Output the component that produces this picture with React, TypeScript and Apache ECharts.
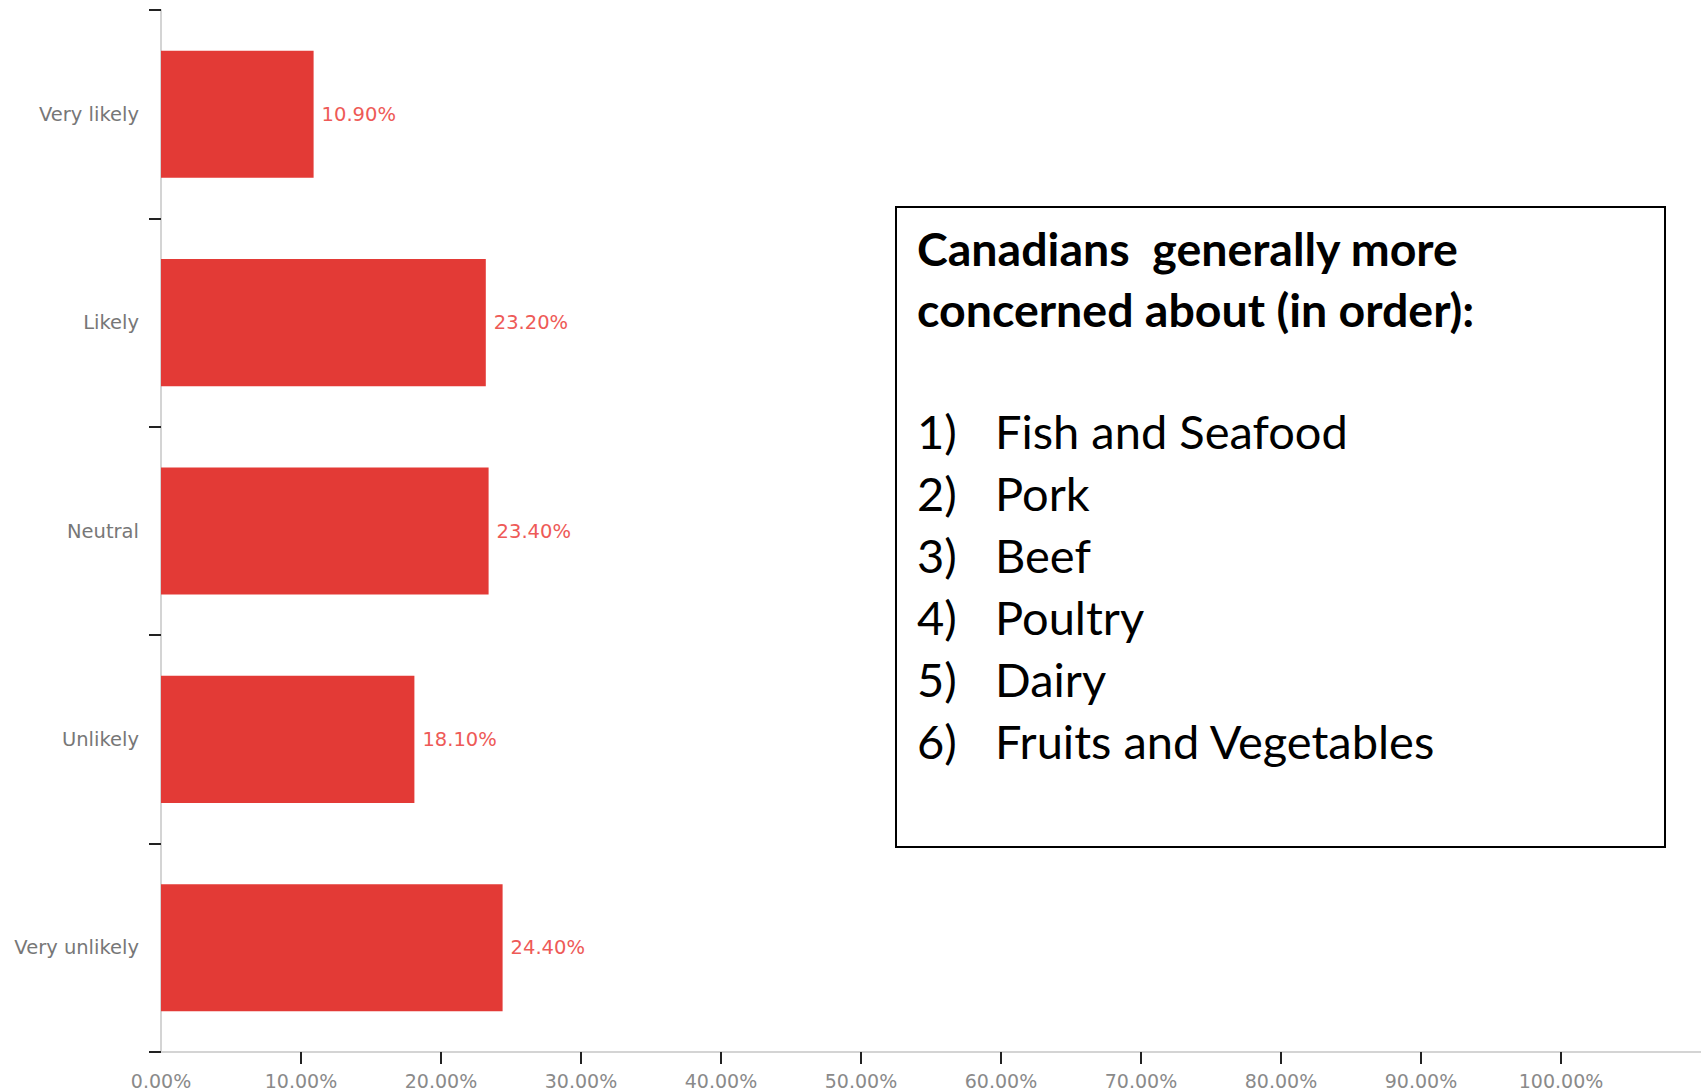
import React, { useEffect, useRef } from "react";
import * as echarts from "echarts";

const categories = ["Very likely", "Likely", "Neutral", "Unlikely", "Very unlikely"];
const values = [10.9, 23.2, 23.4, 18.1, 24.4];
const tickValues = [0, 10, 20, 30, 40, 50, 60, 70, 80, 90, 100];
const tickMarks = [10, 20, 30, 40, 50, 60, 70, 80, 90, 100];
const boxTitle = ["Canadians  generally more", "concerned about (in order):"];
const boxItems = ["Fish and Seafood", "Pork", "Beef", "Poultry", "Dairy", "Fruits and Vegetables"];

export default function App() {
  const ref = useRef<HTMLDivElement>(null);
  useEffect(() => {
    document.body.style.margin = "0";
    const chart = echarts.init(ref.current!, undefined, { renderer: "svg" });
    const axisFont = "'DejaVu Sans', 'Liberation Sans', sans-serif";
    const boxFont = "Lato, 'Open Sans', sans-serif";
    const graphics: any[] = [
      {
        type: "rect",
        shape: { x: 896, y: 207, width: 769, height: 640 },
        style: { fill: "#fff", stroke: "#000", lineWidth: 2 },
        z: 10,
      },
    ];
    boxTitle.forEach((t, i) => {
      graphics.push({
        type: "text",
        x: 917,
        y: 248 + i * 61,
        z: 11,
        style: {
          text: t,
          font: `bold 46.5px ${boxFont}`,
          fill: "#000",
          textVerticalAlign: "middle",
        },
      });
    });
    boxItems.forEach((t, i) => {
      const y = 431 + i * 62;
      graphics.push({
        type: "text",
        x: 917,
        y,
        z: 11,
        style: { text: `${i + 1})`, font: `47px ${boxFont}`, fill: "#000", textVerticalAlign: "middle" },
      });
      graphics.push({
        type: "text",
        x: 995,
        y,
        z: 11,
        style: { text: t, font: `47px ${boxFont}`, fill: "#000", textVerticalAlign: "middle" },
      });
    });

    chart.setOption({
      animation: false,
      backgroundColor: "#fff",
      grid: { left: 161, right: -4, top: 10, bottom: 39, containLabel: false },
      xAxis: {
        type: "value",
        min: 0,
        max: 110,
        interval: 10,
        splitLine: { show: false },
        axisLine: { show: true, lineStyle: { color: "#d4d4d4", width: 2 } },
        axisTick: {
          show: true,
          length: 12,
          lineStyle: { color: "#222", width: 2 },
          customValues: tickMarks,
        },
        axisLabel: {
          customValues: tickValues,
          formatter: (v: number) => `${v.toFixed(2)}%`,
          color: "#8a8a8a",
          fontFamily: axisFont,
          fontSize: 19,
          margin: 19,
        },
      },
      yAxis: {
        type: "category",
        data: categories,
        inverse: true,
        axisLine: { show: true, lineStyle: { color: "#d4d4d4", width: 2 } },
        axisTick: { show: true, length: 12, lineStyle: { color: "#222", width: 2 } },
        axisLabel: {
          color: "#777",
          fontFamily: axisFont,
          fontSize: 19.5,
          margin: 22,
        },
      },
      series: [
        {
          type: "bar",
          data: values,
          barCategoryGap: "39%",
          itemStyle: { color: "#e33a36" },
          label: {
            show: true,
            position: "right",
            distance: 8,
            color: "#ee5a57",
            fontFamily: axisFont,
            fontSize: 19.5,
            formatter: (p: any) => `${Number(p.value).toFixed(2)}%`,
          },
        },
      ],
      graphic: graphics,
    });
    return () => chart.dispose();
  }, []);
  return <div ref={ref} style={{ width: 1701, height: 1091 }} />;
}
